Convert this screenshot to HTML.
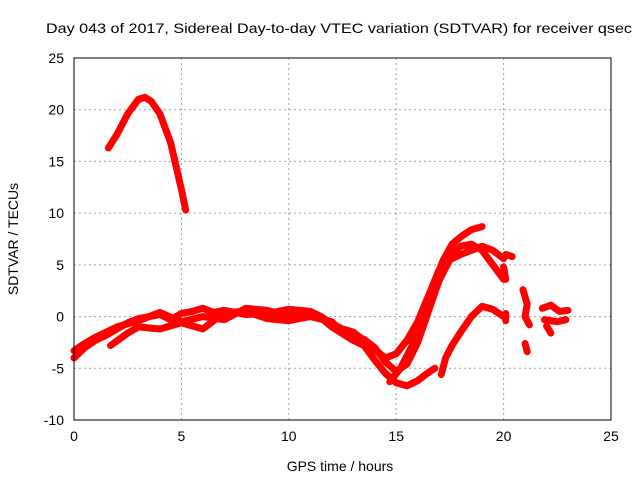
<!DOCTYPE html>
<html><head><meta charset="utf-8"><style>
body{margin:0;background:#fff;}
svg{display:block;font-family:"Liberation Sans",sans-serif;}
</style></head><body>
<svg id="chart" width="640" height="480" viewBox="0 0 640 480" xmlns="http://www.w3.org/2000/svg">
<rect width="640" height="480" fill="#fff"/>
<text x="46" y="33" font-size="14" textLength="586" lengthAdjust="spacingAndGlyphs">Day 043 of 2017, Sidereal Day-to-day VTEC variation (SDTVAR) for receiver qsec</text>
<g id="grid"></g>
<g id="series"></g>
<rect x="74" y="58" width="537" height="362" fill="none" stroke="#000" stroke-width="1"/>
<g id="ticks" font-size="14"></g>
<text x="340" y="471" font-size="14" text-anchor="middle">GPS time / hours</text>
<text transform="translate(18,239) rotate(-90)" font-size="14" text-anchor="middle">SDTVAR / TECUs</text>
</svg>
<script>
const xTicks=[0,5,10,15,20,25];
const yTicks=[-10,-5,0,5,10,15,20,25];
const trackArc=[[1.6,16.3],[2,17.6],[2.5,19.6],[3,21],[3.3,21.2],[3.6,20.8],[4,19.6],[4.5,16.8],[5,12.3],[5.2,10.3]];
const trackBase1=[[0,-4],[0.5,-3],[1,-2.3],[1.5,-1.8],[2,-1.2],[2.5,-0.6],[3,-0.2],[3.5,0],[4,0.2],[4.5,-0.3],[5,0.3],[5.5,0.5],[6,0.8],[6.5,0.4],[7,0.6],[8,0.2],[9,0.3],[10,0.7],[11,0.5],[11.5,0],[12,-0.7],[12.5,-1.2],[13,-1.5],[13.5,-2.3],[14,-3.2],[14.5,-4],[15,-3.6],[15.5,-2.3],[16,-0.5],[16.5,2],[17,4.5],[17.5,6],[18,6.8],[18.5,7],[19,6.4],[19.5,5],[20,3.6]];
const trackBase2=[[0,-3.3],[0.5,-2.6],[1,-2],[2,-1],[3,-0.4],[4,0.4],[5,-0.5],[6,0],[7,-0.3],[8,0.8],[9,0.6],[10,0],[11,0.2],[11.6,-0.3],[12,-1],[13,-2.3],[13.5,-2.8],[14,-4.2],[14.5,-5.5],[15,-6.4],[15.5,-6.7],[16,-6.2],[16.5,-5.4],[16.8,-5]];
const trackBase3=[[1.7,-2.8],[2.5,-1.6],[3,-1],[4,-1.2],[5,-0.6],[6,-1.2],[7,0.4],[8,0.5],[9,-0.2],[10,-0.4],[11,0],[12,-0.5],[12.5,-1.5],[13.5,-2.2],[14,-3],[14.5,-4.4],[15,-5.3],[15.5,-4.6],[16,-2.5],[16.5,0.5],[17,3.5],[17.5,5.5],[18,6],[18.5,6.4],[19,6.8],[19.5,6.4],[20,5.6]];
const trackRise=[[14.7,-6.3],[15.2,-5],[15.7,-3],[16.2,0],[16.7,3],[17.2,5.5],[17.6,7],[18,7.7],[18.5,8.4],[19,8.7]];
const trackLate=[[17.1,-5.6],[17.3,-4],[17.6,-2.8],[18,-1.5],[18.5,0],[19,1],[19.5,0.7],[20,0]];
const bits=[[[20.1,6],[20.4,5.8]],[[20,4.8],[20.1,3.6]],[[20.1,0.3],[20.1,-0.4]],[[20.9,2.6],[21.1,1.2],[21,0],[21.2,-0.8]],[[21,-2.6],[21.1,-3.4]],[[21.8,0.8],[22.2,1.1],[22.6,0.5],[23,0.6]],[[21.9,-0.3],[22.5,-0.5],[22.9,-0.3]],[[22,-0.9],[22.2,-1.6]]];
const allTracks=[trackArc,trackBase1,trackBase2,trackBase3,trackRise,trackLate].concat(bits);
const X0=74,X1=611,Y0=420,Y1=58;
const sx=v=>X0+(v-0)/25*(X1-X0);
const sy=v=>Y0-(v+10)/35*(Y0-Y1);
const NS="http://www.w3.org/2000/svg";
const grid=document.getElementById('grid'),ticks=document.getElementById('ticks'),ser=document.getElementById('series');
function mk(t,a,p){const e=document.createElementNS(NS,t);for(const k in a)e.setAttribute(k,a[k]);p.appendChild(e);return e;}
xTicks.forEach(v=>{
 if(v>0&&v<25){const l=mk('line',{x1:sx(v),x2:sx(v),y1:Y1,y2:Y0,stroke:'#a0a0a0','stroke-dasharray':'2,3'},grid);
 
 }
 const t=mk('text',{x:sx(v),y:Y0+21,'text-anchor':'middle'},ticks);t.textContent=v;
 
 
});
yTicks.forEach(v=>{
 if(v>-10&&v<25){const l=mk('line',{x1:X0,x2:X1,y1:sy(v),y2:sy(v),stroke:'#a0a0a0','stroke-dasharray':'2,3'},grid);
 
 }
 const t=mk('text',{x:X0-10,y:sy(v)+5,'text-anchor':'end'},ticks);t.textContent=v;
 
 
});
allTracks.forEach(tr=>{
 const p=mk('polyline',{points:tr.map(d=>sx(d[0])+','+sy(d[1])).join(' '),fill:'none',stroke:'#f00','stroke-width':7,'stroke-linecap':'round','stroke-linejoin':'round'},ser);
 
 
});
</script>
</body></html>
